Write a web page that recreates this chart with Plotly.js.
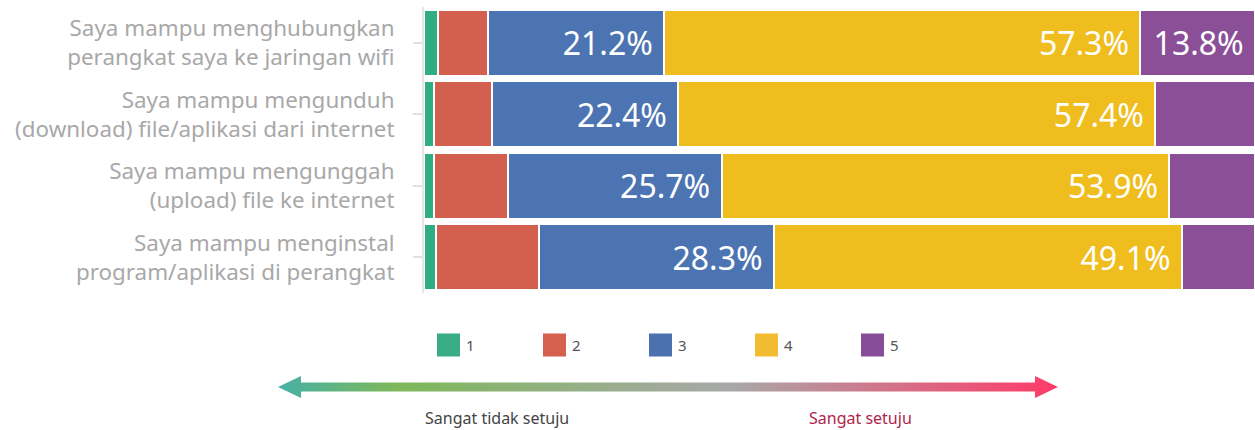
<!DOCTYPE html>
<html>
<head>
<meta charset="utf-8">
<script src="https://cdn.plot.ly/plotly-3.0.1.min.js"></script>
<style>
  html, body { margin: 0; padding: 0; background: #fff; }
  #chart { width: 1255px; height: 430px; }
</style>
</head>
<body>
<div id="chart"></div>
<script>
// Survey statements (y categories)
const categories = [
  "Saya mampu menghubungkan<br>perangkat saya ke jaringan wifi",
  "Saya mampu mengunduh<br>(download) file/aplikasi dari internet",
  "Saya mampu mengunggah<br>(upload) file ke internet",
  "Saya mampu menginstal<br>program/aplikasi di perangkat"
];

// Likert scale levels
const levels = ["1", "2", "3", "4", "5"];

// Percentage of answers per level, one value per statement
const level1 = [1.7, 1.2, 1.2, 1.5];
const level2 = [6.0, 7.0, 8.9, 12.3];
const level3 = [21.2, 22.4, 25.7, 28.3];
const level4 = [57.3, 57.4, 53.9, 49.1];
const level5 = [13.8, 12.0, 10.3, 8.8];

// Rows whose value is printed inside the segment, per level
const labelledRows = [[], [], [0, 1, 2, 3], [0, 1, 2, 3], [0]];

const colors = ["#31ad86", "#d3604f", "#4c74b2", "#f0bd1e", "#8a4f97"];
const legendColors = ["#38ad86", "#d5604c", "#4b71b0", "#f2bc30", "#884d98"];

const scaleLeft = "Sangat tidak setuju";
const scaleRight = "Sangat setuju";

const allValues = [level1, level2, level3, level4, level5];

const FONT = "'Noto Sans', 'DejaVu Sans', sans-serif";

const traces = allValues.map((vals, i) => ({
  type: "bar",
  orientation: "h",
  name: levels[i],
  y: categories,
  x: vals,
  marker: { color: colors[i], line: { color: "#ffffff", width: 2 } },
  text: vals.map((v, r) => labelledRows[i].includes(r) ? v.toFixed(1) + "%&nbsp;" : ""),
  textposition: "inside",
  insidetextanchor: "end",
  textangle: 0,
  insidetextfont: { family: FONT, size: 32, color: "#ffffff" },
  hoverinfo: "skip",
  showlegend: false
}));

// Plot-area geometry in page pixels, used to place the legend and scale arrow
const W = 1255, H = 430;
const M = { l: 424, r: 0, t: 7, b: 137 };
const pw = W - M.l - M.r, ph = H - M.t - M.b;
const px = x => (x - M.l) / pw;
const py = y => (H - M.b - y) / ph;

const shapes = [];
const annotations = [];

// Custom legend: large colour squares with labels underneath the bars
const legendStart = 437, legendStep = 106, sq = 23, legendY = 345;
levels.forEach((lv, i) => {
  const x0 = legendStart + i * legendStep;
  shapes.push({
    type: "rect", xref: "paper", yref: "paper",
    x0: px(x0), x1: px(x0 + sq), y0: py(legendY - sq / 2), y1: py(legendY + sq / 2),
    fillcolor: legendColors[i], line: { width: 0 }
  });
  annotations.push({
    xref: "paper", yref: "paper", x: px(x0 + sq + 4), y: py(legendY),
    xanchor: "left", yanchor: "middle", showarrow: false,
    text: lv, font: { family: FONT, size: 15, color: "#555555" }
  });
});

// Scale captions under the arrow
annotations.push({
  xref: "paper", yref: "paper", x: px(497), y: py(418),
  xanchor: "center", yanchor: "middle", showarrow: false,
  text: scaleLeft, font: { family: FONT, size: 16, color: "#444444" }
});
annotations.push({
  xref: "paper", yref: "paper", x: px(860), y: py(418),
  xanchor: "center", yanchor: "middle", showarrow: false,
  text: scaleRight, font: { family: FONT, size: 16, color: "#b0244a" }
});

// Double-headed gradient arrow (teal -> green -> grey -> pink-red)
const arrowSvg =
  '<svg xmlns="http://www.w3.org/2000/svg" width="780" height="24" viewBox="0 0 780 24">' +
  '<defs><linearGradient id="g" x1="0" y1="0" x2="1" y2="0">' +
  '<stop offset="0" stop-color="#47b0a6"/>' +
  '<stop offset="0.15" stop-color="#7db85a"/>' +
  '<stop offset="0.58" stop-color="#a8a8a8"/>' +
  '<stop offset="1" stop-color="#ff3a68"/>' +
  '</linearGradient></defs>' +
  '<path fill="url(#g)" d="M0,12 L23,1 L23,7.5 L757,7.5 L757,1 L780,12 L757,23 L757,16.5 L23,16.5 L23,23 Z"/>' +
  '</svg>';

const images = [{
  source: "data:image/svg+xml;charset=utf-8," + encodeURIComponent(arrowSvg),
  xref: "paper", yref: "paper",
  x: px(278), y: py(375),
  sizex: 780 / pw, sizey: 24 / ph,
  xanchor: "left", yanchor: "top",
  sizing: "stretch", layer: "above"
}];

const layout = {
  width: W, height: H,
  margin: M,
  barmode: "stack",
  bargap: 0.08,
  paper_bgcolor: "#ffffff",
  plot_bgcolor: "#ffffff",
  font: { family: FONT },
  showlegend: false,
  xaxis: {
    range: [0, 100],
    showgrid: false, zeroline: false, showticklabels: false, ticks: "",
    fixedrange: true
  },
  yaxis: {
    autorange: "reversed",
    showgrid: false, zeroline: false,
    showline: true, linecolor: "#e6e6e6", linewidth: 2,
    ticks: "outside", ticklen: 9, tickwidth: 2, tickcolor: "#e0e0e0",
    ticklabelstandoff: 14,
    tickfont: { family: FONT, size: 22.4, color: "#a8a8a8" },
    fixedrange: true
  },
  shapes: shapes,
  annotations: annotations,
  images: images
};

Plotly.newPlot("chart", traces, layout, { displayModeBar: false, staticPlot: true });
</script>
</body>
</html>
